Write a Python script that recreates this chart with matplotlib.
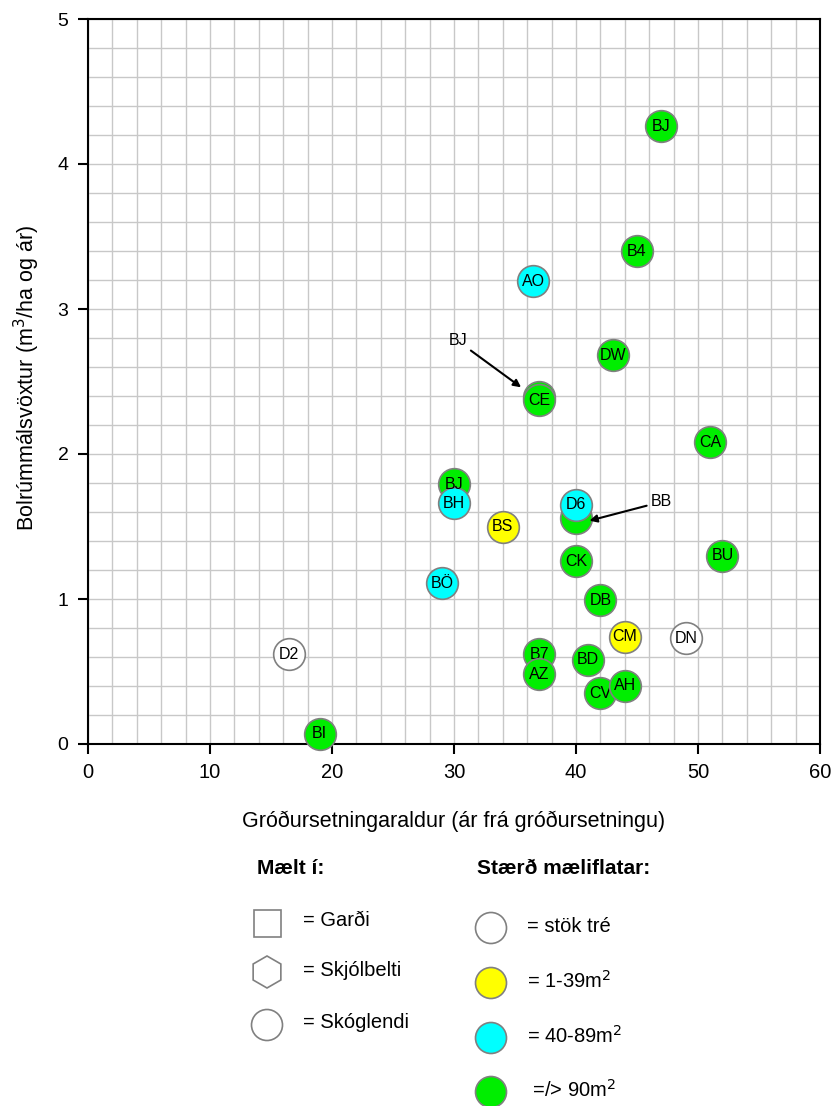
import matplotlib.pyplot as plt
from matplotlib.patches import Circle, Rectangle, RegularPolygon
from matplotlib.ticker import MultipleLocator

plt.rcParams['font.family'] = ['Liberation Sans', 'DejaVu Sans']

# --- data (drawing order: later points sit on top) ---
labels = ['BI', 'D2', 'BÖ', 'BJ', 'BH', 'BS', 'AO', '', 'CE', 'B7', 'AZ', '', 'D6', 'CK',
          'BD', 'DB', 'CV', 'AH', 'CM', 'DW', 'B4', 'BJ', 'DN', 'CA', 'BU']
age = [19, 16.5, 29, 30, 30, 34, 36.5, 37, 37, 37, 37, 40, 40, 40,
       41, 42, 42, 44, 44, 43, 45, 47, 49, 51, 52]
growth = [0.07, 0.62, 1.11, 1.79, 1.66, 1.50, 3.19, 2.39, 2.37, 0.62, 0.48, 1.56, 1.65, 1.26,
          0.58, 0.99, 0.35, 0.40, 0.74, 2.68, 3.40, 4.26, 0.73, 2.08, 1.30]
# plot size class: 0 = single trees, 1 = 1-39 m2, 2 = 40-89 m2, 3 = >= 90 m2
size_class = [3, 0, 2, 3, 2, 1, 2, 3, 3, 3, 3, 3, 2, 3,
              3, 3, 3, 3, 1, 3, 3, 3, 0, 3, 3]

class_colors = ['white', '#ffff00', '#00ffff', '#00ee00']
class_labels = ['= stök tré', '= 1-39m$^2$', '= 40-89m$^2$', ' =/> 90m$^2$']
site_labels = ['= Garði', '= Skjólbelti', '= Skóglendi']

# hidden points pointed out with arrows: (label, text pos, arrow tip)
callouts = [('BJ', (30.3, 2.78), (35.5, 2.46)),
            ('BB', (47.0, 1.67), (41.1, 1.54))]

fig = plt.figure(figsize=(8.34, 11.06), dpi=100)
ax = fig.add_axes([88 / 834, 1 - 744 / 1106, 732 / 834, 725 / 1106])

for i, (lab, x, y, c) in enumerate(zip(labels, age, growth, size_class)):
    ax.scatter(x, y, s=520, color=class_colors[c], edgecolor='#808080',
               linewidth=1.2, zorder=3 + 2 * i, clip_on=False)
    if lab:
        # the BJ label at age 30 stays readable above the BH circle
        tz = 300 if i == 3 else 4 + 2 * i
        ax.text(x, y, lab, ha='center', va='center', fontsize=11.5, zorder=tz)

for lab, txt, tip in callouts:
    ax.annotate(lab, xy=tip, xytext=txt, fontsize=11.5, ha='center', va='center',
                arrowprops=dict(arrowstyle='-|>', color='black', lw=1.5,
                                mutation_scale=11, shrinkA=1, shrinkB=0),
                zorder=100)

ax.set_xlim(0, 60)
ax.set_ylim(0, 5)
ax.xaxis.set_major_locator(MultipleLocator(10))
ax.yaxis.set_major_locator(MultipleLocator(1))
ax.xaxis.set_minor_locator(MultipleLocator(2))
ax.yaxis.set_minor_locator(MultipleLocator(0.2))
ax.grid(which='both', color='#c8c8c8', linewidth=1.0, zorder=0)
ax.set_axisbelow(True)
ax.tick_params(which='major', direction='out', length=7, width=1.5, labelsize=14.5, pad=7)
ax.tick_params(axis='y', labelsize=14)
ax.tick_params(which='minor', length=0)
for sp in ax.spines.values():
    sp.set_linewidth(1.5)
    sp.set_color('black')

ax.set_xlabel('Gróðursetningaraldur (ár frá gróðursetningu)', fontsize=15.5, labelpad=20)
ax.set_ylabel('Bolrúmmálsvöxtur (m$^3$/ha og ár)', fontsize=15.5)
ax.yaxis.set_label_coords(-0.063, 0.505)

# --- legend drawn in figure pixel space ---
lg = fig.add_axes([0, 0, 1, 1], zorder=-1)
lg.set_xlim(0, 834)
lg.set_ylim(1106, 0)
lg.axis('off')

lg.text(257, 868, 'Mælt í:', fontsize=15, fontweight='bold', va='center')
lg.text(477, 868, 'Stærð mæliflatar:', fontsize=15, fontweight='bold', va='center')

edge = '#808080'
lg.add_patch(Rectangle((254, 910), 27, 27, facecolor='white', edgecolor=edge, lw=1.2))
lg.add_patch(RegularPolygon((267, 972), 6, radius=16, facecolor='white', edgecolor=edge, lw=1.2))
lg.add_patch(Circle((267, 1025), 15.5, facecolor='white', edgecolor=edge, lw=1.2))
for lab, ty in zip(site_labels, [921, 970, 1022]):
    lg.text(303, ty, lab, fontsize=14.5, va='center')

for k, (lab, cy) in enumerate(zip(class_labels, [928, 983, 1038, 1092])):
    lg.add_patch(Circle((491, cy), 15.5, facecolor=class_colors[k], edgecolor=edge, lw=1.2))
    lg.text(527, cy - 2, lab, fontsize=14.5, va='center')

fig.savefig('out.png', dpi=100)
